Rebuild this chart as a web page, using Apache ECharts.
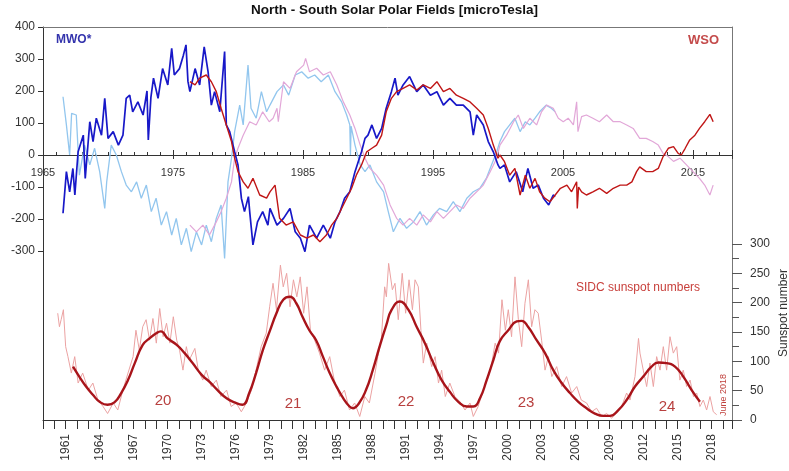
<!DOCTYPE html>
<html><head><meta charset="utf-8">
<script src="https://cdn.jsdelivr.net/npm/echarts@6/dist/echarts.min.js"></script>
<style>html,body{margin:0;padding:0;background:#fff}#c{width:789px;height:471px}</style>
</head><body><div id="c"></div>
<script>
// Polar field, MWO (dark blue) [year, microTesla]
const mwoDark = [[1966.54,-182],[1966.8,-52],[1967.05,-115],[1967.3,-42],[1967.45,-125],[1967.7,10],[1968.1,62],[1968.25,-73],[1968.6,104],[1968.85,42],[1969.1,115],[1969.5,62],[1969.75,177],[1970,52],[1970.4,73],[1970.8,31],[1971.15,62],[1971.4,177],[1971.67,187],[1971.9,135],[1972.3,166],[1972.7,125],[1973.0,200],[1973.1,47],[1973.3,180],[1973.5,240],[1973.85,177],[1974.2,270],[1974.6,219],[1974.9,333],[1975.1,250],[1975.5,270],[1975.8,312],[1976.0,344],[1976.15,230],[1976.3,198],[1976.7,270],[1977.05,219],[1977.4,338],[1977.7,260],[1977.95,156],[1978.2,198],[1978.6,135],[1978.97,323],[1979.1,94],[1979.36,73],[1979.74,10],[1980,-31],[1980.26,-135],[1980.5,-177],[1980.8,-130],[1980.9,-177],[1981.15,-281],[1981.5,-209],[1981.9,-177],[1982.3,-219],[1982.46,-167],[1983,-219],[1983.5,-198],[1984,-167],[1984.4,-240],[1984.8,-260],[1985.15,-302],[1985.5,-219],[1986.05,-260],[1986.56,-219],[1987.1,-260],[1987.46,-209],[1987.85,-177],[1988.2,-135],[1988.6,-115],[1989,-52],[1989.25,-21],[1989.5,10],[1989.77,52],[1990,62],[1990.3,94],[1990.66,52],[1991.05,83],[1991.4,146],[1991.8,198],[1992.08,240],[1992.3,187],[1992.7,219],[1993.2,245],[1993.75,198],[1994.25,219],[1994.8,187],[1995.3,198],[1995.8,156],[1996.3,177],[1996.8,156],[1997.33,156],[1997.85,135],[1998.1,62],[1998.36,125],[1998.87,94],[1999.25,42],[1999.64,10],[2000,-31],[2000.15,-42],[2000.5,-31],[2000.9,-84],[2001.4,-52],[2001.9,-115],[2002.3,-42],[2002.7,-104],[2003.1,-94],[2003.5,-135],[2003.9,-156],[2004.25,-125],[2004.4,-130]];
// Polar field, MWO opposite sign (light blue)
const mwoLight = [[1966.54,182],[1966.8,94],[1967.05,0],[1967.2,130],[1967.56,125],[1967.8,-63],[1968.2,31],[1968.6,-31],[1968.97,21],[1969.36,-52],[1969.75,-167],[1969.9,-84],[1970.25,31],[1970.64,0],[1971.03,-52],[1971.4,-94],[1971.8,-115],[1972.2,-84],[1972.56,-135],[1972.95,-94],[1973.33,-177],[1973.7,-135],[1974.1,-219],[1974.5,-177],[1974.9,-250],[1975.25,-198],[1975.64,-281],[1976.03,-229],[1976.4,-302],[1976.8,-240],[1977.2,-281],[1977.56,-219],[1977.95,-271],[1978.33,-198],[1978.7,-156],[1978.97,-323],[1979.23,-84],[1979.5,-10],[1979.74,73],[1980.13,156],[1980.4,94],[1980.77,281],[1981,146],[1981.4,115],[1981.8,198],[1982.2,135],[1982.46,156],[1983,198],[1983.5,219],[1983.9,187],[1984.4,250],[1984.9,260],[1985.4,240],[1985.9,250],[1986.4,229],[1986.95,250],[1987.46,198],[1987.97,166],[1988.36,125],[1988.6,94],[1988.65,0],[1988.7,90],[1989,31],[1989.4,-31],[1989.77,-52],[1990.15,-31],[1990.66,-84],[1991.2,-115],[1991.56,-177],[1991.95,-240],[1992.46,-198],[1992.97,-229],[1993.5,-209],[1994,-177],[1994.5,-219],[1995.03,-187],[1995.5,-167],[1996.05,-177],[1996.56,-146],[1997.07,-177],[1997.6,-135],[1998.1,-115],[1998.6,-104],[1999.1,-73],[1999.5,-31],[1999.9,10],[2000.15,42],[2000.5,73],[2000.9,94],[2001.3,115],[2001.7,73],[2002.1,104],[2002.45,94],[2002.85,115],[2003.2,135],[2003.7,156],[2004.1,146],[2004.4,135]];
// Polar field, WSO opposite sign (pink)
const wsoLight = [[1976.3,-219],[1976.8,-240],[1977.3,-219],[1977.8,-250],[1978.33,-209],[1978.7,-177],[1979.1,-135],[1979.5,-84],[1979.74,-10],[1980,21],[1980.4,62],[1980.9,104],[1981.4,94],[1981.9,135],[1982.4,104],[1982.7,115],[1983,146],[1983.1,104],[1983.5,229],[1984,208],[1984.5,260],[1985.05,281],[1985.2,302],[1985.5,260],[1986.05,271],[1986.56,250],[1987.1,260],[1987.6,219],[1988.1,166],[1988.6,125],[1989,83],[1989.4,31],[1989.77,-10],[1990.15,-42],[1990.66,-63],[1991.2,-94],[1991.7,-156],[1992.2,-198],[1992.7,-219],[1993.2,-198],[1993.75,-219],[1994.25,-187],[1994.8,-209],[1995.3,-177],[1995.8,-198],[1996.3,-177],[1996.8,-156],[1997.33,-167],[1997.85,-135],[1998.36,-115],[1998.87,-94],[1999.4,-52],[1999.9,-10],[2000.15,31],[2000.66,62],[2001.2,104],[2001.56,125],[2001.95,83],[2002.45,115],[2002.97,94],[2003.35,135],[2003.74,156],[2004.25,146],[2004.64,115],[2005.02,104],[2005.4,115],[2005.8,94],[2006.05,166],[2006.15,73],[2006.43,120],[2006.8,125],[2007.3,115],[2007.8,104],[2008.36,125],[2008.87,104],[2009.4,104],[2009.9,94],[2010.4,83],[2010.9,52],[2011.4,52],[2011.9,42],[2012.33,31],[2012.7,5],[2013.1,-5],[2013.5,-20],[2014,-10],[2014.5,-31],[2015,-52],[2015.5,-73],[2015.9,-94],[2016.3,-125],[2016.55,-94]];
// Polar field, WSO (red)
const wsoDark = [[1976.3,229],[1976.7,219],[1977.05,240],[1977.56,250],[1977.95,229],[1978.33,198],[1978.7,146],[1979.1,94],[1979.5,42],[1979.74,-10],[1980,-52],[1980.4,-84],[1980.77,-104],[1981.15,-73],[1981.67,-125],[1982.2,-135],[1982.46,-115],[1982.85,-94],[1983.2,-198],[1983.7,-219],[1984.25,-209],[1984.8,-250],[1985.3,-260],[1985.8,-250],[1986.3,-271],[1986.8,-250],[1987.2,-219],[1987.6,-198],[1987.97,-167],[1988.36,-135],[1988.74,-104],[1989.1,-63],[1989.5,-31],[1989.9,10],[1990.3,21],[1990.66,31],[1991.05,62],[1991.4,135],[1991.8,177],[1992.2,198],[1992.7,208],[1993.2,219],[1993.75,203],[1994.25,219],[1994.8,208],[1995.3,229],[1995.8,198],[1996.3,208],[1996.8,187],[1997.33,177],[1997.85,166],[1998.36,146],[1998.87,125],[1999.25,83],[1999.64,31],[2000,-10],[2000.15,0],[2000.5,-21],[2000.9,-63],[2001.3,-42],[2001.7,-125],[2002.1,-63],[2002.45,-104],[2002.85,-73],[2003.2,-115],[2003.6,-135],[2004,-146],[2004.4,-125],[2004.8,-104],[2005.3,-94],[2005.66,-115],[2006.05,-84],[2006.1,-167],[2006.2,-100],[2006.43,-115],[2006.8,-125],[2007.3,-115],[2007.8,-104],[2008.36,-120],[2008.87,-104],[2009.4,-94],[2009.9,-94],[2010.3,-84],[2010.66,-52],[2010.9,-37],[2011.4,-52],[2011.9,-52],[2012.33,-42],[2012.7,-5],[2013.1,21],[2013.5,26],[2013.86,5],[2014.1,0],[2014.4,21],[2014.75,47],[2015.15,62],[2015.5,83],[2015.9,104],[2016.3,127],[2016.55,104]];
// SIDC monthly sunspot number
const ssnMonthly = [[1960.3,182],[1960.45,159],[1960.6,171],[1960.8,188],[1961,125],[1961.2,108],[1961.5,80],[1961.8,108],[1962.1,63],[1962.5,80],[1963,51],[1963.4,63],[1963.85,34],[1964.3,23],[1964.7,11],[1965.2,29],[1965.6,17],[1966.05,51],[1966.5,80],[1966.95,108],[1967.2,153],[1967.5,119],[1967.8,159],[1968.1,171],[1968.4,136],[1968.7,173],[1969,131],[1969.3,190],[1969.6,142],[1969.9,165],[1970.2,131],[1970.5,176],[1970.8,136],[1971.05,119],[1971.35,85],[1971.65,125],[1971.9,102],[1972.4,122],[1972.7,85],[1973.1,68],[1973.4,85],[1973.85,57],[1974.3,68],[1974.7,40],[1975.2,51],[1975.6,23],[1976.05,29],[1976.5,14],[1976.95,29],[1977.4,51],[1977.8,85],[1978.25,125],[1978.7,148],[1979,193],[1979.3,233],[1979.6,188],[1979.95,264],[1980.2,227],[1980.5,250],[1980.8,193],[1981.1,239],[1981.4,210],[1981.7,244],[1982,182],[1982.3,227],[1982.6,153],[1982.97,136],[1983.4,114],[1983.85,85],[1984.3,108],[1984.7,68],[1985.2,40],[1985.6,51],[1986.05,17],[1986.5,29],[1986.95,6],[1987.4,40],[1987.8,29],[1988.3,80],[1988.55,108],[1988.85,136],[1989.15,227],[1989.3,210],[1989.5,267],[1989.83,222],[1990.06,233],[1990.35,171],[1990.7,250],[1991,182],[1991.3,239],[1991.6,188],[1991.83,239],[1992.12,227],[1992.35,153],[1992.56,97],[1992.86,131],[1993.3,91],[1993.6,108],[1993.9,63],[1994.18,85],[1994.5,40],[1994.9,63],[1995.35,40],[1995.8,31],[1996.24,17],[1996.68,29],[1996.97,6],[1997.4,23],[1997.85,51],[1998.3,74],[1998.6,97],[1998.9,131],[1999.2,114],[1999.5,205],[1999.8,153],[2000.06,188],[2000.35,142],[2000.65,244],[2000.95,171],[2001.24,125],[2001.53,199],[2001.83,239],[2002.12,159],[2002.41,188],[2002.7,182],[2003,136],[2003.3,85],[2003.6,108],[2003.9,74],[2004.33,91],[2004.77,57],[2005.2,74],[2005.65,46],[2006.1,57],[2006.5,34],[2006.97,29],[2007.4,14],[2007.85,20],[2008.3,6],[2008.74,11],[2009.18,3],[2009.6,14],[2010.06,23],[2010.5,46],[2010.8,34],[2011.24,74],[2011.55,139],[2011.68,114],[2011.97,85],[2012.27,57],[2012.56,97],[2012.86,57],[2013.15,108],[2013.45,85],[2013.74,125],[2014.03,85],[2014.33,142],[2014.62,114],[2014.92,125],[2015.2,68],[2015.5,85],[2015.8,57],[2016.1,68],[2016.4,40],[2016.68,46],[2016.97,23],[2017.27,34],[2017.56,17],[2017.86,40],[2018.15,14],[2018.45,9]];
// SIDC smoothed sunspot number
const ssnSmoothed = [[1961.65,91],[1962.2,74],[1962.8,57],[1963.4,43],[1964,31],[1964.7,26],[1965.3,30],[1965.9,46],[1966.5,68],[1967.1,97],[1967.8,128],[1968.4,139],[1969,148],[1969.4,151],[1970,139],[1970.8,128],[1971.5,114],[1972.2,97],[1973,77],[1973.7,65],[1974.4,51],[1975.2,37],[1975.9,30],[1976.6,26],[1977.2,46],[1977.8,80],[1978.4,119],[1979,151],[1979.6,182],[1980.2,205],[1980.8,210],[1981.35,199],[1981.9,176],[1982.5,153],[1983.1,136],[1983.7,108],[1984.3,80],[1984.9,57],[1985.5,37],[1986.05,23],[1986.35,20],[1986.9,29],[1987.5,51],[1988.1,85],[1988.7,125],[1989.3,162],[1989.77,188],[1990.5,202],[1991.24,188],[1991.97,159],[1992.7,131],[1993.45,97],[1994.18,68],[1994.9,48],[1995.65,31],[1996.4,23],[1996.97,23],[1997.56,37],[1998.15,68],[1998.74,102],[1999.3,134],[2000.06,153],[2000.8,168],[2001.24,169],[2001.8,159],[2002.56,136],[2003.3,114],[2004.03,85],[2004.77,63],[2005.5,46],[2006.24,31],[2006.97,20],[2007.7,11],[2008.45,7],[2009.03,7],[2009.77,17],[2010.5,34],[2011.24,57],[2011.97,74],[2012.7,91],[2013.3,98],[2014.03,97],[2014.77,91],[2015.5,74],[2016.24,51],[2016.97,31]];
const cycleLabels = ['20','21','22','23','24'];

const F = '"Liberation Sans", Arial, sans-serif';
const AX = '#333';
const chart = echarts.init(document.getElementById('c'));
const cyclePos = [[163,401],[293,404],[406,402],[526,403],[667,407]];
const noAxis = {axisLine: {show: false}, axisTick: {show: false}, axisLabel: {show: false}, splitLine: {show: false}};
const option = {
  animation: false,
  backgroundColor: '#fff',
  title: {text: 'North - South Solar Polar Fields [microTesla]', left: 'center', top: -2,
    textStyle: {fontFamily: F, fontSize: 13.5, fontWeight: 'bold', color: '#111'}},
  grid: [
    {left: 43, top: 27, width: 689, height: 224},
    {left: 43, top: 244, width: 689, height: 176},
    {left: 43, top: 27, width: 689, height: 128}
  ],
  xAxis: [
    {gridIndex: 0, type: 'value', min: 1965, max: 2018, interval: 10, position: 'bottom',
      axisLine: {onZero: true, lineStyle: {color: AX}},
      axisTick: {inside: true, length: 5, lineStyle: {color: AX}},
      minorTick: {show: true, splitNumber: 10, length: 3, lineStyle: {color: AX}},
      axisLabel: {show: false}, splitLine: {show: false}},
    {gridIndex: 0, type: 'value', min: 1965, max: 2018, interval: 10, position: 'bottom',
      axisLine: {show: false, onZero: true}, axisTick: {length: 4, lineStyle: {color: AX}},
      axisLabel: {show: false}, splitLine: {show: false}},
    {gridIndex: 0, type: 'value', min: 1965, max: 2018, position: 'top',
      axisLine: {onZero: false, lineStyle: {color: '#777'}}, axisTick: {show: false},
      axisLabel: {show: false}, splitLine: {show: false}},
    {gridIndex: 1, type: 'value', min: 1959, max: 2019.8, interval: 1, position: 'bottom',
      axisLine: {onZero: false, lineStyle: {color: AX}},
      axisTick: {length: 9, lineStyle: {color: AX}},
      axisLabel: {rotate: 90, margin: 14, fontSize: 12, color: '#333', fontFamily: F,
        formatter: v => (Number.isInteger(v) && (v - 1961) % 3 === 0 ? String(v) : '')},
      splitLine: {show: false}},
    {gridIndex: 2, type: 'value', min: 1965, max: 2018, interval: 10, position: 'bottom',
      axisLine: {show: false, onZero: false}, axisTick: {show: false}, splitLine: {show: false},
      axisLabel: {margin: 12, fontSize: 11, color: '#333', fontFamily: F, showMaxLabel: false,
        formatter: v => ((v - 1965) % 10 === 0 ? String(v) : '')}}
  ],
  yAxis: [
    {gridIndex: 0, type: 'value', min: -300, max: 400, interval: 100, position: 'left',
      axisLine: {show: true, onZero: false, lineStyle: {color: AX}},
      axisTick: {show: true, length: 5, lineStyle: {color: AX}},
      axisLabel: {margin: 8, fontSize: 12, color: '#333', fontFamily: F},
      splitLine: {show: false}},
    {gridIndex: 0, type: 'value', min: -300, max: 400, position: 'right',
      axisLine: {show: true, onZero: false, lineStyle: {color: '#777'}}, axisTick: {show: false},
      axisLabel: {show: false}, splitLine: {show: false}},
    {gridIndex: 1, type: 'value', min: 0, max: 300, position: 'left',
      axisLine: {show: true, onZero: false, lineStyle: {color: AX}}, axisTick: {show: false},
      axisLabel: {show: false}, splitLine: {show: false}},
    {gridIndex: 1, type: 'value', min: 0, max: 300, interval: 50, position: 'right',
      axisLine: {show: true, onZero: false, lineStyle: {color: '#777'}},
      axisTick: {show: true, length: 10, lineStyle: {color: '#555'}},
      minorTick: {show: true, splitNumber: 2, length: 7, lineStyle: {color: '#555'}},
      axisLabel: {margin: 18, fontSize: 12, color: '#333', fontFamily: F},
      splitLine: {show: false}},
    Object.assign({gridIndex: 2, type: 'value', min: 0, max: 400}, noAxis)
  ],
  series: [
    {name: 'MWO light', type: 'line', xAxisIndex: 0, yAxisIndex: 0, data: mwoLight, showSymbol: false, clip: false,
      lineStyle: {width: 1.3, color: '#92c6ee'}},
    {name: 'WSO light', type: 'line', xAxisIndex: 0, yAxisIndex: 0, data: wsoLight, showSymbol: false, clip: false,
      lineStyle: {width: 1.2, color: '#e2a7d8'}},
    {name: 'MWO', type: 'line', xAxisIndex: 0, yAxisIndex: 0, data: mwoDark, showSymbol: false, clip: false,
      lineStyle: {width: 1.7, color: '#1818c8'}},
    {name: 'WSO', type: 'line', xAxisIndex: 0, yAxisIndex: 0, data: wsoDark, showSymbol: false, clip: false,
      lineStyle: {width: 1.4, color: '#c01616'}},
    {name: 'SSN monthly', type: 'line', xAxisIndex: 3, yAxisIndex: 3, data: ssnMonthly, showSymbol: false,
      lineStyle: {width: 1, color: '#eba2a2'}},
    {name: 'SSN smoothed', type: 'line', xAxisIndex: 3, yAxisIndex: 3, data: ssnSmoothed, showSymbol: false, smooth: true,
      lineStyle: {width: 2.4, color: '#a8141a'}}
  ],
  graphic: [
    {type: 'text', x: 56, y: 40, style: {text: 'MWO*', font: 'bold 12px ' + F, fill: '#3434ad', textVerticalAlign: 'middle', verticalAlign: 'middle'}},
    {type: 'text', x: 688, y: 40, style: {text: 'WSO', font: 'bold 13px ' + F, fill: '#c44b4b', textVerticalAlign: 'middle', verticalAlign: 'middle'}},
    {type: 'text', x: 576, y: 288, style: {text: 'SIDC sunspot numbers', font: '12px ' + F, fill: '#c8403c', textVerticalAlign: 'middle', verticalAlign: 'middle'}},
    {type: 'text', x: 724, y: 395, rotation: Math.PI / 2, style: {text: 'June 2018', font: '9px ' + F, fill: '#c0403c', textAlign: 'center', align: 'center', textVerticalAlign: 'middle', verticalAlign: 'middle'}},
    {type: 'text', x: 784, y: 313, rotation: Math.PI / 2, style: {text: 'Sunspot number', font: '12px ' + F, fill: '#333', textAlign: 'center', align: 'center', textVerticalAlign: 'middle', verticalAlign: 'middle'}}
  ].concat(cycleLabels.map((t, i) => ({type: 'text', x: cyclePos[i][0], y: cyclePos[i][1],
    style: {text: t, font: '15px ' + F, fill: '#b8403f', textAlign: 'center', align: 'center', textVerticalAlign: 'middle', verticalAlign: 'middle'}})))
};
chart.setOption(option);
</script>
</body></html>
